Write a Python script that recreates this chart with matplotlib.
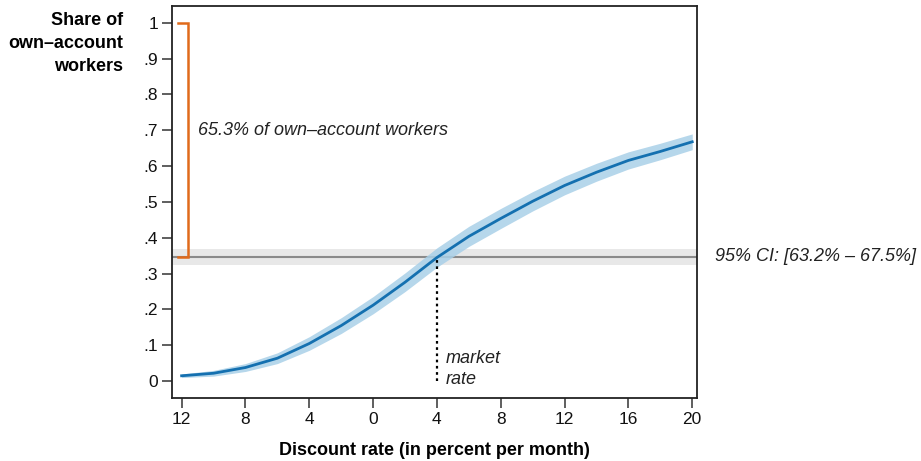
import matplotlib
matplotlib.use("Agg")
import matplotlib.pyplot as plt
import numpy as np

plt.rcParams["font.family"] = ["Liberation Sans", "DejaVu Sans"]

# Estimated share of own-account workers by discount rate
discount_rate = [-12, -10, -8, -6, -4, -2, 0, 2, 4, 6, 8, 10, 12, 14, 16, 18, 20]
share = [0.015, 0.022, 0.038, 0.064, 0.105, 0.155, 0.212, 0.276, 0.345,
         0.404, 0.454, 0.502, 0.546, 0.583, 0.616, 0.641, 0.668]
half_width = [0.005, 0.008, 0.011, 0.015, 0.019, 0.022, 0.024, 0.026, 0.027,
              0.028, 0.028, 0.027, 0.026, 0.025, 0.024, 0.023, 0.022]

market_rate = 4
point_estimate = 0.347
ci_low, ci_high = 0.325, 0.368

xticks = [-12, -8, -4, 0, 4, 8, 12, 16, 20]
xtick_labels = ["12", "8", "4", "0", "4", "8", "12", "16", "20"]
yticks = [0, 0.1, 0.2, 0.3, 0.4, 0.5, 0.6, 0.7, 0.8, 0.9, 1.0]
ytick_labels = ["0", ".1", ".2", ".3", ".4", ".5", ".6", ".7", ".8", ".9", "1"]

blue = "#1470b0"
light_blue = "#a9d0e8"
orange = "#e06a1b"

fig = plt.figure(figsize=(9.21, 4.61), dpi=100)
ax = fig.add_axes([0.1868, 0.1367, 0.5700, 0.8503])

x = np.array(discount_rate)
y = np.array(share)
hw = np.array(half_width)

# confidence band around the estimated share
ax.axhspan(ci_low, ci_high, color="#e8e8e8", zorder=1, lw=0)
ax.axhline(point_estimate, color="#8a8a8a", lw=1.5, zorder=2)

ax.fill_between(x, y - hw, y + hw, color=light_blue, alpha=0.85, lw=0, zorder=3)
ax.plot(x, y, color=blue, lw=2, zorder=4)

# market rate marker
ax.plot([market_rate, market_rate], [0, point_estimate], color="black",
        lw=1.6, ls=(0, (1.2, 1.6)), zorder=5)
ax.text(market_rate + 0.55, 0.035, "market\nrate", style="italic", fontsize=13,
        ha="left", va="center", linespacing=1.3, color="#222222")

# bracket showing the share of own-account workers above the line
bx, bx0 = -11.6, -12.2
ax.plot([bx0, bx, bx, bx0], [1.0, 1.0, point_estimate, point_estimate],
        color=orange, lw=1.8, zorder=6, solid_joinstyle="miter")
ax.text(-10.95, 0.7, "65.3% of own\u2013account workers", style="italic",
        fontsize=13, ha="left", va="center", color="#222222")

ax.set_xlim(-12.6, 20.3)
ax.set_ylim(-0.047, 1.047)
ax.set_xticks(xticks)
ax.set_xticklabels(xtick_labels)
ax.set_yticks(yticks)
ax.set_yticklabels(ytick_labels)
ax.tick_params(axis="both", direction="out", length=7, width=1.1,
               labelsize=12.5, color="#333333", labelcolor="#111111", pad=3)
for s in ax.spines.values():
    s.set_linewidth(1.3)
    s.set_color("#222222")

ax.set_xlabel("Discount rate (in percent per month)", fontsize=13,
              fontweight="bold", labelpad=11)

fig.text(0.1335, 0.975, "Share of\nown\u2013account\nworkers", fontsize=13,
         fontweight="bold", ha="right", va="top", linespacing=1.48)

ax.text(1.035, point_estimate, "95% CI: [63.2% \u2013 67.5%]", style="italic",
        fontsize=13, ha="left", va="center", color="#222222",
        transform=ax.get_yaxis_transform())

fig.savefig("out.png", dpi=100)
